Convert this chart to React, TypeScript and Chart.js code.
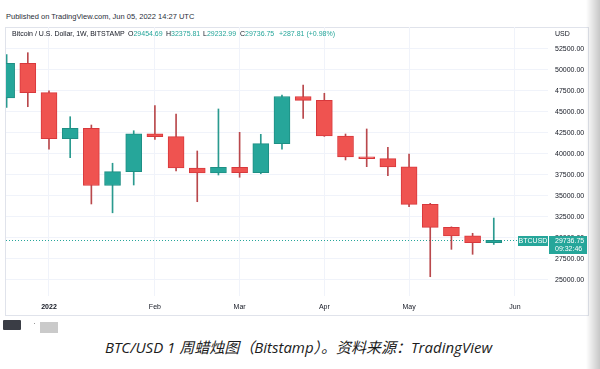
import React, { useEffect, useRef } from "react";
import { Chart, registerables } from "chart.js";

Chart.register(...registerables);

// ---- Data (weekly BTC/USD, Bitstamp) ----
const weeks = [
  "2021-12-20", "2021-12-27", "2022-01-03", "2022-01-10", "2022-01-17", "2022-01-24",
  "2022-01-31", "2022-02-07", "2022-02-14", "2022-02-21", "2022-02-28", "2022-03-07",
  "2022-03-14", "2022-03-21", "2022-03-28", "2022-04-04", "2022-04-11", "2022-04-18",
  "2022-04-25", "2022-05-02", "2022-05-09", "2022-05-16", "2022-05-23", "2022-05-30",
];
const opens = [
  46680, 50780, 47300, 41820, 43060, 36250, 37900, 42400, 42060, 38330, 37750, 38400,
  37780, 41230, 46850, 46380, 42140, 39660, 39450, 38470, 34000, 31270, 30250, 29454.69,
];
const highs = [
  51850, 52060, 47520, 44440, 43450, 38900, 42770, 45750, 44760, 40360, 45360, 42580,
  42340, 47000, 48210, 47230, 42380, 42980, 40800, 40000, 34130, 31330, 30560, 32375.81,
];
const lows = [
  45560, 45630, 40560, 39560, 34050, 33000, 36310, 41750, 37980, 34320, 37500, 37230,
  37650, 40560, 44250, 42100, 39290, 38490, 37420, 33720, 25390, 28650, 28060, 29232.99,
];
const closes = [
  50780, 47300, 41820, 43060, 36250, 37900, 42400, 42060, 38330, 37750, 38420, 37780,
  41230, 46850, 46380, 42140, 39660, 39450, 38470, 34000, 31270, 30250, 29455, 29736.75,
];
const monthTickIdx = [2, 7, 11, 15, 19, 24];
const monthTickLabels = ["2022", "Feb", "Mar", "Apr", "May", "Jun"];
const priceTicks = [25000, 27500, 30000, 32500, 35000, 37500, 40000, 42500, 45000, 47500, 50000, 52500];
const lastPriceLabel = "29736.75";
const countdownLabel = "09:32:46";
const symbolLabel = "BTCUSD";

const UP = "#26a69a";
const DOWN = "#ef5350";
const UP_BORDER = "#1e8f84";
const DOWN_BORDER = "#d8383c";
const UP_WICK = "#2a9a8f";
const DOWN_WICK = "#b9484c";
const FONT = "'Liberation Sans', Arial, sans-serif";

const priceLinePlugin = {
  id: "priceLine",
  beforeDatasetsDraw(chart: any) {
    const { ctx, chartArea, scales } = chart;
    const y = Math.round(scales.y.getPixelForValue(closes[closes.length - 1])) + 0.5;
    ctx.save();
    ctx.strokeStyle = UP;
    ctx.lineWidth = 1;
    ctx.setLineDash([1, 2]);
    ctx.beginPath();
    ctx.moveTo(chartArea.left, y);
    ctx.lineTo(chartArea.right - 30, y);
    ctx.stroke();
    ctx.restore();
  },
  afterDraw(chart: any) {
    const { ctx, chartArea, scales } = chart;
    const y = scales.y.getPixelForValue(closes[closes.length - 1]);
    const top = Math.round(y) - 4;
    ctx.save();
    ctx.fillStyle = UP;
    ctx.fillRect(chartArea.right - 30, top, 30, 10);
    ctx.fillRect(chartArea.right + 1, top, 38, 18);
    ctx.fillStyle = "#ffffff";
    ctx.font = `7px ${FONT}`;
    ctx.textBaseline = "middle";
    ctx.textAlign = "center";
    ctx.fillText(symbolLabel, chartArea.right - 15, top + 5.5);
    ctx.textAlign = "left";
    ctx.fillText(lastPriceLabel, chartArea.right + 7, top + 5);
    ctx.fillText(countdownLabel, chartArea.right + 7, top + 13.5);
    ctx.restore();
  },
};

export default function App() {
  const canvasRef = useRef<HTMLCanvasElement | null>(null);

  useEffect(() => {
    if (!canvasRef.current) return;
    const up = closes.map((c, i) => c >= opens[i]);
    const chart = new Chart(canvasRef.current, {
      type: "bar",
      data: {
        labels: weeks,
        datasets: [
          {
            label: "wick",
            data: weeks.map((_, i) => ({ x: i, y: [lows[i], highs[i]] })) as any,
            backgroundColor: up.map((u) => (u ? UP_WICK : DOWN_WICK)),
            borderWidth: 0,
            barThickness: 1,
            grouped: false,
            order: 2,
            clip: 0,
          } as any,
          {
            label: "body",
            data: weeks.map((_, i) => ({ x: i, y: [opens[i], closes[i]] })) as any,
            backgroundColor: up.map((u) => (u ? UP : DOWN)),
            borderColor: up.map((u) => (u ? UP_BORDER : DOWN_BORDER)),
            borderWidth: 1,
            borderSkipped: false,
            barThickness: 16,
            grouped: false,
            order: 1,
            clip: 0,
          } as any,
        ],
      },
      options: {
        animation: false,
        responsive: false,
        devicePixelRatio: 1,
        layout: { padding: { left: 1, right: 0, top: 0, bottom: 0 } },
        plugins: { legend: { display: false }, tooltip: { enabled: false } },
        scales: {
          x: {
            type: "linear",
            offset: false,
            min: -0.03,
            max: 25.56,
            border: { display: false },
            grid: { color: "#f0f3fa", drawTicks: false, offset: false },
            afterBuildTicks: (scale: any) => {
              scale.ticks = monthTickIdx.map((v) => ({ value: v }));
            },
            afterFit: (scale: any) => {
              scale.height = 19;
              scale.paddingLeft = 0;
              scale.paddingRight = 0;
            },
            ticks: {
              autoSkip: false,
              maxRotation: 0,
              padding: 7,
              color: "#131722",
              font: (ctx: any) => ({
                size: 7,
                family: FONT,
                weight: ctx.tick && ctx.tick.value === monthTickIdx[0] ? "bold" : "normal",
              }),
              callback: (value: any) => {
                const k = monthTickIdx.indexOf(Number(value));
                return k >= 0 ? monthTickLabels[k] : "";
              },
            },
          },
          y: {
            position: "right",
            min: 23095,
            max: 55119,
            border: { display: false },
            grid: { color: "#f0f3fa", drawTicks: false },
            afterBuildTicks: (scale: any) => {
              scale.ticks = priceTicks.map((v) => ({ value: v }));
            },
            afterFit: (scale: any) => {
              scale.width = 40;
              scale.paddingTop = 0;
              scale.paddingBottom = 0;
            },
            ticks: {
              padding: 7,
              color: "#131722",
              font: { size: 7, family: FONT },
              callback: (value: any) => Number(value).toFixed(2),
            },
          },
        },
      } as any,
      plugins: [priceLinePlugin],
    });
    return () => chart.destroy();
  }, []);

  const teal = { color: UP };
  const legendBase: React.CSSProperties = {
    position: "absolute",
    top: 29,
    fontSize: 7,
    lineHeight: "9px",
    fontFamily: FONT,
    color: "#131722",
    whiteSpace: "nowrap",
  };

  return (
    <div style={{ position: "absolute", left: 0, top: 0, width: 600, height: 369, background: "#fff", overflow: "hidden" }}>
      <div style={{ position: "absolute", left: 6, top: 12, fontSize: 7.5, lineHeight: "9px", fontFamily: FONT, color: "#2a2e39", whiteSpace: "nowrap" }}>
        Published on TradingView.com, Jun 05, 2022 14:27 UTC
      </div>
      <div style={{ position: "absolute", left: 5, top: 27, width: 582, height: 287, border: "1px solid #e0e3eb" }} />
      <canvas
        ref={canvasRef}
        width={583}
        height={288}
        style={{ position: "absolute", left: 5, top: 27, width: 583, height: 288 }}
      />
      <div style={{ ...legendBase, left: 12 }}>Bitcoin / U.S. Dollar, 1W, BITSTAMP</div>
      <div style={{ ...legendBase, left: 128 }}>O<span style={teal}>29454.69</span></div>
      <div style={{ ...legendBase, left: 166 }}>H<span style={teal}>32375.81</span></div>
      <div style={{ ...legendBase, left: 203 }}>L<span style={teal}>29232.99</span></div>
      <div style={{ ...legendBase, left: 240 }}>C<span style={teal}>29736.75</span></div>
      <div style={{ ...legendBase, left: 279, ...teal }}>+287.81 (+0.98%)</div>
      <div style={{ ...legendBase, left: 555 }}>USD</div>
      <div style={{ position: "absolute", left: 3, top: 320, width: 18, height: 10, background: "#3a3d45", borderRadius: 1 }} />
      <div style={{ position: "absolute", left: 34, top: 323, width: 1, height: 1, background: "#999" }} />
      <div style={{ position: "absolute", left: 40, top: 322, width: 18, height: 11, background: "#cacaca" }} />
      <div
        style={{
          position: "absolute",
          left: 0,
          top: 336,
          width: 597,
          textAlign: "center",
          fontSize: 15,
          lineHeight: "22px",
          fontStyle: "italic",
          fontFamily: "'Open Sans', 'Noto Sans CJK SC', sans-serif",
          color: "#1c1c1c",
          whiteSpace: "nowrap",
        }}
      >
        BTC/USD 1 周蜡烛图（Bitstamp）。资料来源：TradingView
      </div>
      <div
        style={{
          position: "absolute",
          left: 586,
          top: 0,
          width: 14,
          height: 369,
          background: "linear-gradient(to right, rgba(0,0,0,0), rgba(0,0,0,0.22))",
        }}
      />
    </div>
  );
}
